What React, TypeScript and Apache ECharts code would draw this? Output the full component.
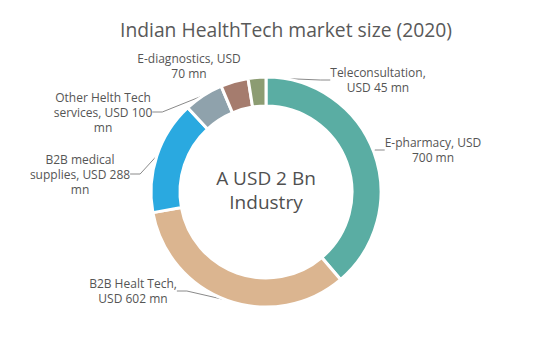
import React, { useEffect, useRef } from "react";
import * as echarts from "echarts";

const categories = [
  "E-pharmacy, USD\n700 mn",
  "B2B Healt Tech,\nUSD 602 mn",
  "B2B medical\nsupplies, USD 288\nmn",
  "Other Helth Tech\nservices, USD 100\nmn",
  "E-diagnostics, USD\n70 mn",
  "Teleconsultation,\nUSD 45 mn",
];
const values = [700, 602, 288, 100, 70, 45];
const colors = ["#5aada3", "#dbb590", "#2aa9e0", "#8fa2ac", "#a57c6e", "#8c9c72"];
// label centre positions (px)
const labelPos: [number, number][] = [
  [433, 150],
  [133, 291],
  [80, 174],
  [103, 112],
  [189, 66],
  [378, 80],
];
const showLine = [true, true, true, true, false, true];

export default function App() {
  const ref = useRef<HTMLDivElement>(null);
  useEffect(() => {
    const chart = echarts.init(ref.current!, null, { renderer: "svg" });
    const font = "'Open Sans', 'Noto Sans', sans-serif";
    chart.setOption({
      animation: false,
      title: {
        text: "Indian HealthTech market size (2020)",
        left: 281,
        top: 15,
        textAlign: "center",
        textStyle: { fontFamily: font, fontSize: 19.3, fontWeight: "normal", color: "#595959" },
      },
      graphic: [
        {
          type: "text",
          style: {
            text: "A USD 2 Bn\nIndustry",
            x: 266,
            y: 190,
            align: "center",
            verticalAlign: "middle",
            fontFamily: font,
            fontSize: 19,
            lineHeight: 24,
            fill: "#505050",
          },
        },
      ],
      series: [
        {
          type: "pie",
          center: [266, 192],
          radius: [86, 115],
          startAngle: 90,
          clockwise: true,
          itemStyle: { borderColor: "#ffffff", borderWidth: 3 },
          label: {
            show: true,
            formatter: "{b}",
            fontFamily: font,
            fontSize: 12,
            lineHeight: 15,
            color: "#555555",
            align: "center",
          },
          labelLine: { show: true, lineStyle: { color: "#8a8a8a", width: 1 }, length: 10, length2: 10 },
          labelLayout: (params: any) => {
            const p = labelPos[params.dataIndex];
            return { x: p[0], y: p[1], align: "center", verticalAlign: "middle", hideOverlap: false };
          },
          data: values.map((v, i) => ({
            name: categories[i],
            value: v,
            itemStyle: { color: colors[i] },
            labelLine: { show: showLine[i] },
          })),
        },
      ],
    });
    return () => chart.dispose();
  }, []);
  return (
    <div
      ref={ref}
      style={{ position: "fixed", left: 0, top: 0, width: 540, height: 356, background: "#fff" }}
    />
  );
}
